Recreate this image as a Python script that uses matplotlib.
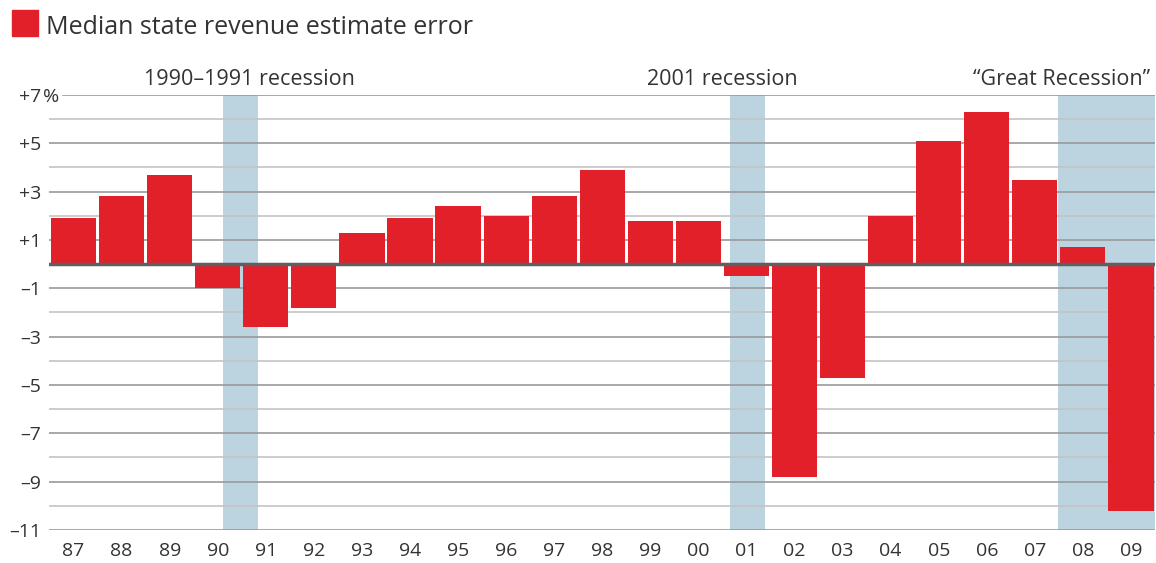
import matplotlib.pyplot as plt
import matplotlib.transforms as mtransforms
import numpy as np

years = ['87', '88', '89', '90', '91', '92', '93', '94', '95', '96', '97', '98',
         '99', '00', '01', '02', '03', '04', '05', '06', '07', '08', '09']
errors = [1.9, 2.8, 3.7, -1.0, -2.6, -1.8, 1.3, 1.9, 2.4, 2.0, 2.8, 3.9,
          1.8, 1.8, -0.5, -8.8, -4.7, 2.0, 5.1, 6.3, 3.5, 0.7, -10.2]

# recession spans in category-index units, and their labels
recession_spans = [(3.11, 3.84), (13.66, 14.39), (20.49, 22.6)]
recession_labels = ['1990\u20131991 recession', '2001 recession', '\u201cGreat Recession\u201d']

y_ticks = [7, 5, 3, 1, -1, -3, -5, -7, -9, -11]

RED = '#e2202a'
SHADE = '#bcd3e0'
TEXT = '#333333'

plt.rcParams['font.family'] = ['Open Sans', 'DejaVu Sans']

fig = plt.figure(figsize=(11.56, 5.63), dpi=100)
ax = fig.add_axes([49.5 / 1156, 1 - 530 / 563, 1105.5 / 1156, 435 / 563])

x = np.arange(len(years))
ax.set_xlim(-0.5, len(years) - 0.5)
ax.set_ylim(-11, 7)

# recession shading
for (a, b) in recession_spans:
    ax.axvspan(a, b, color=SHADE, lw=0, zorder=0)

# gridlines
for v in range(-11, 8):
    col = '#9a9a9a' if v % 2 else '#c4c4c4'
    xmin = 0.012 if v == 7 else 0
    ax.axhline(v, xmin=xmin, color=col, lw=1.2, zorder=1)

ax.bar(x, errors, width=0.94, color=RED, zorder=2)
ax.axhline(0, color='#5f5f5f', lw=2.5, zorder=3)

for s in ax.spines.values():
    s.set_visible(False)

ax.set_xticks(x)
ax.set_xticklabels(years, fontsize=14, color=TEXT)
ax.set_yticks(y_ticks)
ax.set_yticklabels([('+' if v > 0 else '\u2013') + str(abs(v)) for v in y_ticks],
                   fontsize=14, color=TEXT)
ax.tick_params(axis='both', length=0)
ax.tick_params(axis='x', pad=9)
ax.tick_params(axis='y', pad=6)

# percent sign hanging after the top label
ax.annotate('%', xy=(0, 7), xycoords=('axes fraction', 'data'),
            xytext=(-4.5, 0), textcoords='offset points',
            ha='left', va='center_baseline', fontsize=14, color=TEXT)

# recession labels
trans = mtransforms.blended_transform_factory(ax.transData, ax.transAxes)
ax.text(3.67, 1.012, recession_labels[0], transform=trans, ha='center', va='bottom',
        fontsize=15.5, color=TEXT)
ax.text(13.5, 1.012, recession_labels[1], transform=trans, ha='center', va='bottom',
        fontsize=15.5, color=TEXT)
ax.text(22.4, 1.012, recession_labels[2], transform=trans, ha='right', va='bottom',
        fontsize=15.5, color=TEXT)

# title with red key square
fig.patches.append(plt.Rectangle((12 / 1156, 1 - 36 / 563), 26 / 1156, 26 / 563,
                                 transform=fig.transFigure, color=RED))
fig.text(46 / 1156, 1 - 34 / 563, 'Median state revenue estimate error',
         fontsize=18, color=TEXT, ha='left', va='baseline')

fig.savefig('out.png', dpi=100)
